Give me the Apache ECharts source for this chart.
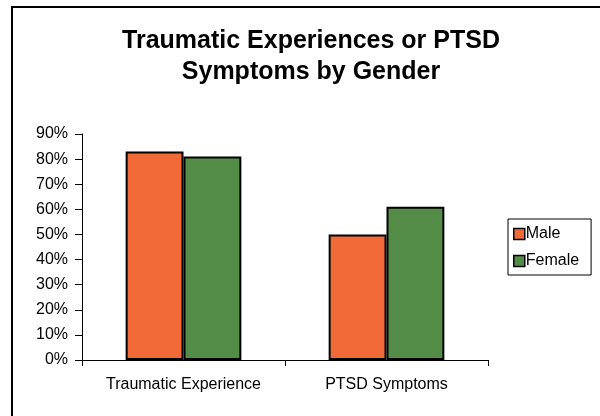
<!DOCTYPE html>
<html>
<head>
<meta charset="utf-8">
<script src="https://cdn.jsdelivr.net/npm/echarts@6/dist/echarts.min.js"></script>
<style>
  html, body { margin: 0; padding: 0; background: #fff; }
  #chart { width: 600px; height: 416px; }
</style>
</head>
<body>
<div id="chart"></div>
<script>
  // data
  var categories = ['Traumatic Experience', 'PTSD Symptoms'];
  var maleValues = [83, 50];
  var femaleValues = [81, 61];
  var seriesNames = ['Male', 'Female'];
  var colors = ['#F26A37', '#538C46'];

  var chart = echarts.init(document.getElementById('chart'));
  var font = 'Liberation Sans, Arial, sans-serif';

  chart.setOption({
    animation: false,
    backgroundColor: '#fff',
    title: {
      text: 'Traumatic Experiences or PTSD\nSymptoms by Gender',
      left: 306,
      top: 21,
      textAlign: 'center',
      textStyle: {
        fontFamily: font,
        fontWeight: 'bold',
        fontSize: 25,
        lineHeight: 31,
        color: '#000'
      }
    },
    // outer frame, only top and left edges show in the picture
    graphic: [{
      type: 'rect',
      shape: { x: 12, y: 7, width: 640, height: 450 },
      style: { fill: 'none', stroke: '#000', lineWidth: 2 },
      silent: true,
      z: 100
    }],
    legend: {
      data: seriesNames,
      orient: 'vertical',
      left: 508,
      top: 219,
      padding: [7, 12, 6, 5],
      itemGap: 11,
      itemWidth: 11,
      itemHeight: 11,
      icon: 'rect',
      borderColor: '#000',
      borderWidth: 1,
      itemStyle: { borderColor: '#000', borderWidth: 1.5 },
      textStyle: { fontFamily: font, fontSize: 16, color: '#000', padding: [0, 0, 0, -4] }
    },
    grid: {
      left: 82,
      top: 134,
      width: 406,
      height: 226
    },
    xAxis: {
      type: 'category',
      data: categories,
      axisLine: { lineStyle: { color: '#000' } },
      axisTick: { show: true, length: 6, lineStyle: { color: '#000' } },
      axisLabel: { fontFamily: font, fontSize: 16, color: '#000', margin: 17 }
    },
    yAxis: {
      type: 'value',
      min: 0,
      max: 90,
      interval: 10,
      axisLine: { show: true, lineStyle: { color: '#000' } },
      axisTick: { show: true, length: 7, lineStyle: { color: '#000' } },
      axisLabel: { fontFamily: font, fontSize: 16, color: '#000', margin: 14, formatter: '{value}%' },
      splitLine: { show: false }
    },
    series: [
      {
        name: seriesNames[0],
        type: 'bar',
        data: maleValues,
        barGap: '0%',
        barCategoryGap: '43%',
        itemStyle: { color: colors[0], borderColor: '#000', borderWidth: 2 }
      },
      {
        name: seriesNames[1],
        type: 'bar',
        data: femaleValues,
        barGap: '0%',
        barCategoryGap: '43%',
        itemStyle: { color: colors[1], borderColor: '#000', borderWidth: 2 }
      }
    ]
  });
</script>
</body>
</html>
